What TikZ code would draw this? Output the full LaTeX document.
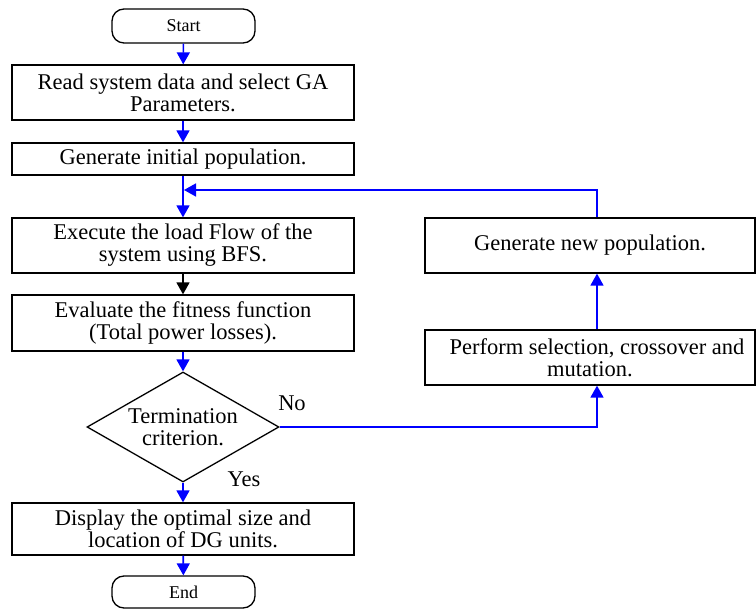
\documentclass[tikz,border=0pt]{standalone}
\usepackage{fontspec}
\setmainfont{Liberation Serif}
\usetikzlibrary{arrows.meta,shapes.geometric}
\begin{document}
\begin{tikzpicture}[x=1pt,y=-1pt,
  box/.style={draw, line width=1.3pt, inner sep=0pt, align=center,
    font=\fontsize{22.5}{22}\selectfont},
  term/.style={draw, line width=1.3pt, rounded corners=12pt, inner sep=0pt,
    minimum width=143pt, font=\fontsize{18}{18}\selectfont},
  dec/.style={draw, diamond, line width=1.3pt, inner sep=0pt, shape aspect=1.75,
    minimum width=192pt, minimum height=110pt, align=center,
    font=\fontsize{22.5}{22}\selectfont},
  arr/.style={-{Triangle[length=12pt,width=13pt]}, line width=1.6pt, blue},
  barr/.style={-{Triangle[length=12pt,width=13pt]}, line width=1.6pt, black},
  lbl/.style={font=\fontsize{22.5}{22}\selectfont, inner sep=0pt}]
\useasboundingbox (0,0) rectangle (756,609);

\node[term, minimum height=34pt] (start) at (183.5,26) {Start};
\node[box, minimum width=342pt, minimum height=55pt] (read) at (183,92.5)
  {Read system data and select GA\\Parameters.};
\node[box, minimum width=342pt, minimum height=32pt] (gi) at (183,159)
  {Generate initial population.};
\node[box, minimum width=342pt, minimum height=55pt] (ex) at (183,245.5)
  {Execute the load Flow of the\\system using BFS.};
\node[box, minimum width=342pt, minimum height=56pt] (ev) at (183,323)
  {Evaluate the fitness function\\(Total power losses).};
\node[dec] (dc) at (183,427) {Termination\\criterion.};
\node[box, minimum width=342pt, minimum height=52pt] (disp) at (183,529)
  {Display the optimal size and\\location of DG units.};
\node[term, minimum height=32pt] (endn) at (183.5,592) {End};

\node[box, minimum width=330pt, minimum height=55pt] (gn) at (590,245.5)
  {Generate new population.};
\node[box, minimum width=330pt, minimum height=55pt] (pf) at (590,357.5)
  {\hspace*{14pt}Perform selection, crossover and\\mutation.};

\coordinate (colx) at (597,0);
\coordinate (join) at (184,190);

\node[lbl] (no) at (292,403) {No};
\node[lbl] (yes) at (244,479) {Yes};

\draw[arr] (start) -- (read);
\draw[arr] (read) -- (gi);
\draw[arr] (gi) -- (ex);
\draw[barr] (ex) -- (ev);
\draw[arr] (ev) -- (dc.north);
\draw[arr] (dc.south) -- (disp);
\draw[arr] (disp) -- (endn);
\draw[arr] (dc.east) -| (pf.south -| colx);
\draw[arr] (pf.north -| colx) -- (gn.south -| colx);
\draw[arr] (gn.north -| colx) |- (join);
\end{tikzpicture}
\end{document}
